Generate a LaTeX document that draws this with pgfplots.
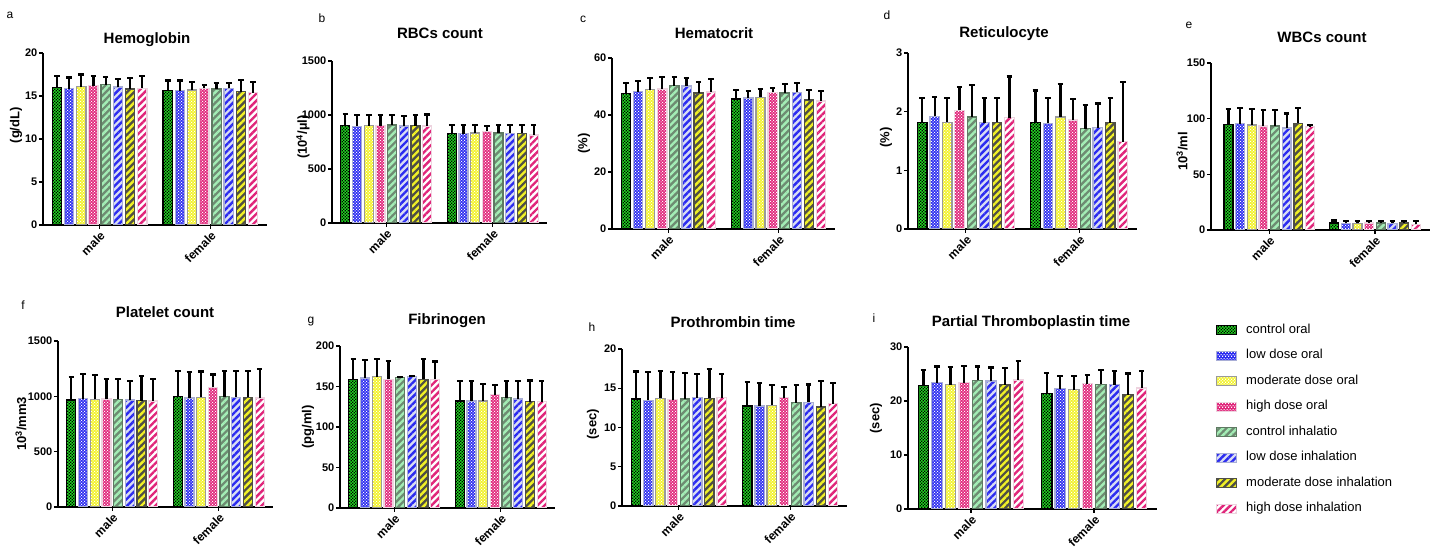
\documentclass[border=0pt]{standalone}
\usepackage{fontspec}
\setmainfont{Liberation Sans}
\usepackage{pgfplots}
\pgfplotsset{compat=1.18}
\usepackage{pgfplotstable}
\usetikzlibrary{patterns,patterns.meta}

\definecolor{cgreen}{HTML}{22E022}
\definecolor{cblue}{HTML}{2B2BF0}
\definecolor{cblueb}{HTML}{A9AED6}
\definecolor{cyel}{HTML}{F2F226}
\definecolor{cgray}{HTML}{9A9A9A}
\definecolor{cmag}{HTML}{E0257A}
\definecolor{cpinkb}{HTML}{EDD3DF}
\definecolor{clgreen}{HTML}{A4EEB6}
\definecolor{cdgreen}{HTML}{5E7A62}
\definecolor{cmgreen}{HTML}{6E8C72}
\definecolor{clblue}{HTML}{D8DCF4}
\definecolor{cdgray}{HTML}{4F4F45}

\pgfdeclarepatternformonly{dotcheck}{\pgfpointorigin}{\pgfqpoint{3.4pt}{3.4pt}}{\pgfqpoint{3.4pt}{3.4pt}}{%
  \pgfpathrectangle{\pgfqpoint{0.25pt}{0.25pt}}{\pgfqpoint{1.2pt}{1.2pt}}%
  \pgfpathrectangle{\pgfqpoint{1.95pt}{1.95pt}}{\pgfqpoint{1.2pt}{1.2pt}}%
  \pgfusepath{fill}}
\pgfdeclarepatternformonly{dotcheckb}{\pgfpointorigin}{\pgfqpoint{3.4pt}{3.4pt}}{\pgfqpoint{3.4pt}{3.4pt}}{%
  \pgfpathrectangle{\pgfqpoint{0.1pt}{0.1pt}}{\pgfqpoint{1.5pt}{1.5pt}}%
  \pgfpathrectangle{\pgfqpoint{1.8pt}{1.8pt}}{\pgfqpoint{1.5pt}{1.5pt}}%
  \pgfusepath{fill}}

\tikzset{stripes/.style={pattern={Lines[angle=45,distance=5pt,line width=2.4pt]},pattern color=#1},
  dots/.style={pattern=dotcheck,pattern color=#1},
  bdots/.style={pattern=dotcheckb,pattern color=#1}}

\pgfplotsset{
  bb/.style={ybar, bar width=0.084, bar shift=0pt, line width=1.3pt,
    error bars/y dir=plus, error bars/y explicit,
    error bars/error bar style={black,line width=2.2pt},
    error bars/error mark options={rotate=90,black,line width=2.2pt,mark size=2.8pt}},
  s1/.style={fill=cgreen, draw=black, postaction={bdots=black}},
  s2/.style={fill=cblue, draw=cblueb, postaction={dots=white}},
  s3/.style={fill=cyel, draw=cgray, postaction={dots=white}},
  s4/.style={fill=cmag, draw=cpinkb, postaction={dots=white}},
  s5/.style={fill=cmgreen, draw=cdgreen, postaction={stripes=clgreen}},
  s6/.style={fill=clblue, draw=cblueb, postaction={stripes=cblue}},
  s7/.style={fill=cdgray, draw=cdgray, postaction={stripes=cyel}},
  s8/.style={fill=white, draw=cpinkb, postaction={stripes=cmag}},
  panel/.style={
    scale only axis, anchor=south west,
    axis lines=left, axis line style={-, line width=1.5pt, black},
    xmin=-0.51, xmax=1.51, ymin=0,
    xtick={0,1}, xticklabels={male,female},
    tick align=outside, major tick length=4pt, tick style={black, line width=1.3pt},
    xticklabel style={rotate=45, anchor=north east, font=\bfseries\fontsize{12}{14}\selectfont, inner sep=1pt},
    yticklabel style={font=\bfseries\fontsize{11}{13}\selectfont, inner sep=1.5pt},
    /pgf/number format/assume math mode=true,
    /pgf/number format/1000 sep={},
    ylabel style={font=\bfseries\fontsize{13}{15}\selectfont, anchor=center},
  },
}

\newcommand{\bars}[1]{%
  \addplot[bb,s1] table[x expr=\thisrow{g}-0.385, y=v1, y error=e1]{#1};
  \addplot[bb,s2] table[x expr=\thisrow{g}-0.275, y=v2, y error=e2]{#1};
  \addplot[bb,s3] table[x expr=\thisrow{g}-0.165, y=v3, y error=e3]{#1};
  \addplot[bb,s4] table[x expr=\thisrow{g}-0.055, y=v4, y error=e4]{#1};
  \addplot[bb,s5] table[x expr=\thisrow{g}+0.055, y=v5, y error=e5]{#1};
  \addplot[bb,s6] table[x expr=\thisrow{g}+0.165, y=v6, y error=e6]{#1};
  \addplot[bb,s7] table[x expr=\thisrow{g}+0.275, y=v7, y error=e7]{#1};
  \addplot[bb,s8] table[x expr=\thisrow{g}+0.385, y=v8, y error=e8]{#1};
}

% Hemoglobin
\pgfplotstableread{
g v1 v2 v3 v4 v5 v6 v7 v8 e1 e2 e3 e4 e5 e6 e7 e8
0 16.0 15.85 16.1 16.2 16.3 16.05 15.8 15.9 1.35 1.3 1.4 1.15 0.9 0.95 1.3 1.4
1 15.6 15.6 15.7 15.9 15.8 15.9 15.5 15.4 1.2 1.2 0.9 0.4 0.7 0.6 1.4 1.2
}\tA
% RBCs
\pgfplotstableread{
g v1 v2 v3 v4 v5 v6 v7 v8 e1 e2 e3 e4 e5 e6 e7 e8
0 902 896 902 902 908 899 902 899 105 104 98 95 95 90 100 105
1 828 828 834 850 834 831 831 816 80 80 74 50 75 78 77 92
}\tB
% Hematocrit
\pgfplotstableread{
g v1 v2 v3 v4 v5 v6 v7 v8 e1 e2 e3 e4 e5 e6 e7 e8
0 47.5 48.2 48.9 49.1 50.3 50.2 47.7 48.1 3.7 3.8 4.0 4.3 2.9 2.7 4.0 4.5
1 45.6 46.0 46.2 47.95 47.7 47.95 45.3 44.9 3.3 2.5 2.9 1.5 3.1 3.3 3.6 3.6
}\tC
% Reticulocyte
\pgfplotstableread{
g v1 v2 v3 v4 v5 v6 v7 v8 e1 e2 e3 e4 e5 e6 e7 e8
0 1.82 1.92 1.82 2.02 1.91 1.81 1.82 1.90 0.41 0.33 0.41 0.40 0.55 0.42 0.41 0.70
1 1.82 1.80 1.91 1.86 1.71 1.73 1.81 1.49 0.54 0.43 0.56 0.35 0.41 0.41 0.42 1.01
}\tD
% WBCs
\pgfplotstableread{
g v1 v2 v3 v4 v5 v6 v7 v8 e1 e2 e3 e4 e5 e6 e7 e8
0 94.5 95.4 94.2 93.3 93.3 91.5 95.7 92.7 14.4 14.4 14.4 14.7 14.7 13.2 14.1 1.5
1 6.3 6.0 6.0 6.2 6.2 6.0 6.2 5.0 2.2 2.3 2.3 2.2 2.2 2.3 2.2 3.2
}\tE
% Platelet
\pgfplotstableread{
g v1 v2 v3 v4 v5 v6 v7 v8 e1 e2 e3 e4 e5 e6 e7 e8
0 966 978 972 975 972 966 960 957 211 223 220 178 181 175 223 196
1 996 984 990 1081 996 990 990 984 232 235 235 117 232 238 238 260
}\tF
% Fibrinogen
\pgfplotstableread{
g v1 v2 v3 v4 v5 v6 v7 v8 e1 e2 e3 e4 e5 e6 e7 e8
0 158.8 160.4 162.1 158.8 160.8 162 158.8 158.8 25.5 22 22 23 1 1 25.5 22
1 132 132 132 139.8 136.1 134.4 131.1 131.1 25 25 20.6 12 21 22.7 26.4 25.2
}\tG
% Prothrombin
\pgfplotstableread{
g v1 v2 v3 v4 v5 v6 v7 v8 e1 e2 e3 e4 e5 e6 e7 e8
0 13.64 13.47 13.73 13.56 13.64 13.81 13.73 13.81 3.5 3.6 3.5 3.5 3.3 3.0 3.7 3.0
1 12.75 12.75 12.84 13.81 13.14 13.22 12.63 13.05 3.0 2.9 2.6 1.3 2.25 2.25 3.3 2.6
}\tH
% PTT
\pgfplotstableread{
g v1 v2 v3 v4 v5 v6 v7 v8 e1 e2 e3 e4 e5 e6 e7 e8
0 22.9 23.4 23.05 23.4 23.8 23.7 23.05 23.9 2.9 3.0 3.25 3.1 2.6 2.5 3.05 3.5
1 21.45 22.25 22.1 23.2 23.1 23.0 21.2 22.4 3.7 2.35 2.6 1.6 2.6 2.6 3.9 3.2
}\tI

\begin{document}
\begin{tikzpicture}
\useasboundingbox (0pt,0pt) rectangle (1438pt,548pt);

\begin{axis}[panel, at={(43pt,323pt)}, width=224pt, height=172pt,
  ymax=20, ytick={0,5,10,15,20}, ylabel={(g/dL)},
  ylabel style={at={(axis description cs:-0.12,0.58)}}]
\bars{\tA}
\end{axis}

\begin{axis}[panel, at={(332pt,325pt)}, width=215pt, height=162pt,
  ymax=1500, ytick={0,500,1000,1500}, ylabel={(10\textsuperscript{4}/µl)},
  ylabel style={at={(axis description cs:-0.135,0.53)}}]
\bars{\tB}
\end{axis}

\begin{axis}[panel, at={(612pt,319pt)}, width=223pt, height=171pt,
  ymax=60, ytick={0,20,40,60}, ylabel={(\%)},
  ylabel style={at={(axis description cs:-0.126,0.5)}}]
\bars{\tC}
\end{axis}

\begin{axis}[panel, at={(908pt,319pt)}, width=229pt, height=176pt,
  ymax=3, ytick={0,1,2,3}, ylabel={(\%)},
  ylabel style={at={(axis description cs:-0.096,0.52)}}]
\bars{\tD}
\end{axis}

\begin{axis}[panel, at={(1211pt,318pt)}, width=219pt, height=167pt,
  xmin=-0.55, xmax=1.52,
  ymax=150, ytick={0,50,100,150}, ylabel={10\textsuperscript{3}/ml},
  ylabel style={at={(axis description cs:-0.132,0.47)}}]
\bars{\tE}
\end{axis}

\begin{axis}[panel, at={(58pt,41pt)}, width=215pt, height=166pt,
  ymax=1500, ytick={0,500,1000,1500}, ylabel={10\textsuperscript{3}/mm3},
  ylabel style={at={(axis description cs:-0.172,0.5)}}]
\bars{\tF}
\end{axis}

\begin{axis}[panel, at={(340pt,40pt)}, width=215pt, height=162pt,
  ymax=200, ytick={0,50,100,150,200}, ylabel={(pg/ml)},
  ylabel style={at={(axis description cs:-0.149,0.5)}}]
\bars{\tG}
\end{axis}

\begin{axis}[panel, at={(622pt,42pt)}, width=225pt, height=157pt,
  ymax=20, ytick={0,5,10,15,20}, ylabel={(sec)},
  ylabel style={at={(axis description cs:-0.129,0.52)}}]
\bars{\tH}
\end{axis}

\begin{axis}[panel, at={(908pt,39pt)}, width=249pt, height=162pt,
  ymax=30, ytick={0,10,20,30}, ylabel={(sec)},
  ylabel style={at={(axis description cs:-0.129,0.56)}},
  legend style={at={(1.237,1.15)}, anchor=north west, draw=none, fill=none,
    inner sep=0pt, row sep=11pt, column sep=8pt,
    font=\fontsize{13}{15}\selectfont,
    nodes={inner sep=1pt, text height=9.5pt, text depth=3pt}},
  legend cell align=left,
  legend image code/.code={\draw[#1, line width=1pt] (0pt,-4.5pt) rectangle (20pt,4.5pt);}]
\bars{\tI}
\legend{control oral, low dose oral, moderate dose oral, high dose oral, control inhalatio, low dose inhalation, moderate dose inhalation, high dose inhalation}
\end{axis}

% titles
\begin{scope}[every node/.style={font=\bfseries\fontsize{15}{17}\selectfont, anchor=base, inner sep=0pt}]
\node at (147pt,504.5pt) {Hemoglobin};
\node at (440pt,509pt) {RBCs count};
\node at (714pt,509pt) {Hematocrit};
\node at (1004pt,510pt) {Reticulocyte};
\node at (1322pt,505pt) {WBCs count};
\node at (165pt,230pt) {Platelet count};
\node at (447pt,223pt) {Fibrinogen};
\node at (733pt,220pt) {Prothrombin time};
\node at (1031pt,221pt) {Partial Thromboplastin time};
\end{scope}
% panel letters
\begin{scope}[every node/.style={font=\fontsize{12}{14}\selectfont, inner sep=0pt}]
\node at (10pt,533pt) {a};
\node at (322pt,530pt) {b};
\node at (583pt,529pt) {c};
\node at (887pt,533pt) {d};
\node at (1189pt,523pt) {e};
\node at (23pt,243pt) {f};
\node at (311pt,226pt) {g};
\node at (592pt,221pt) {h};
\node at (874pt,230pt) {i};
\end{scope}
\end{tikzpicture}
\end{document}
